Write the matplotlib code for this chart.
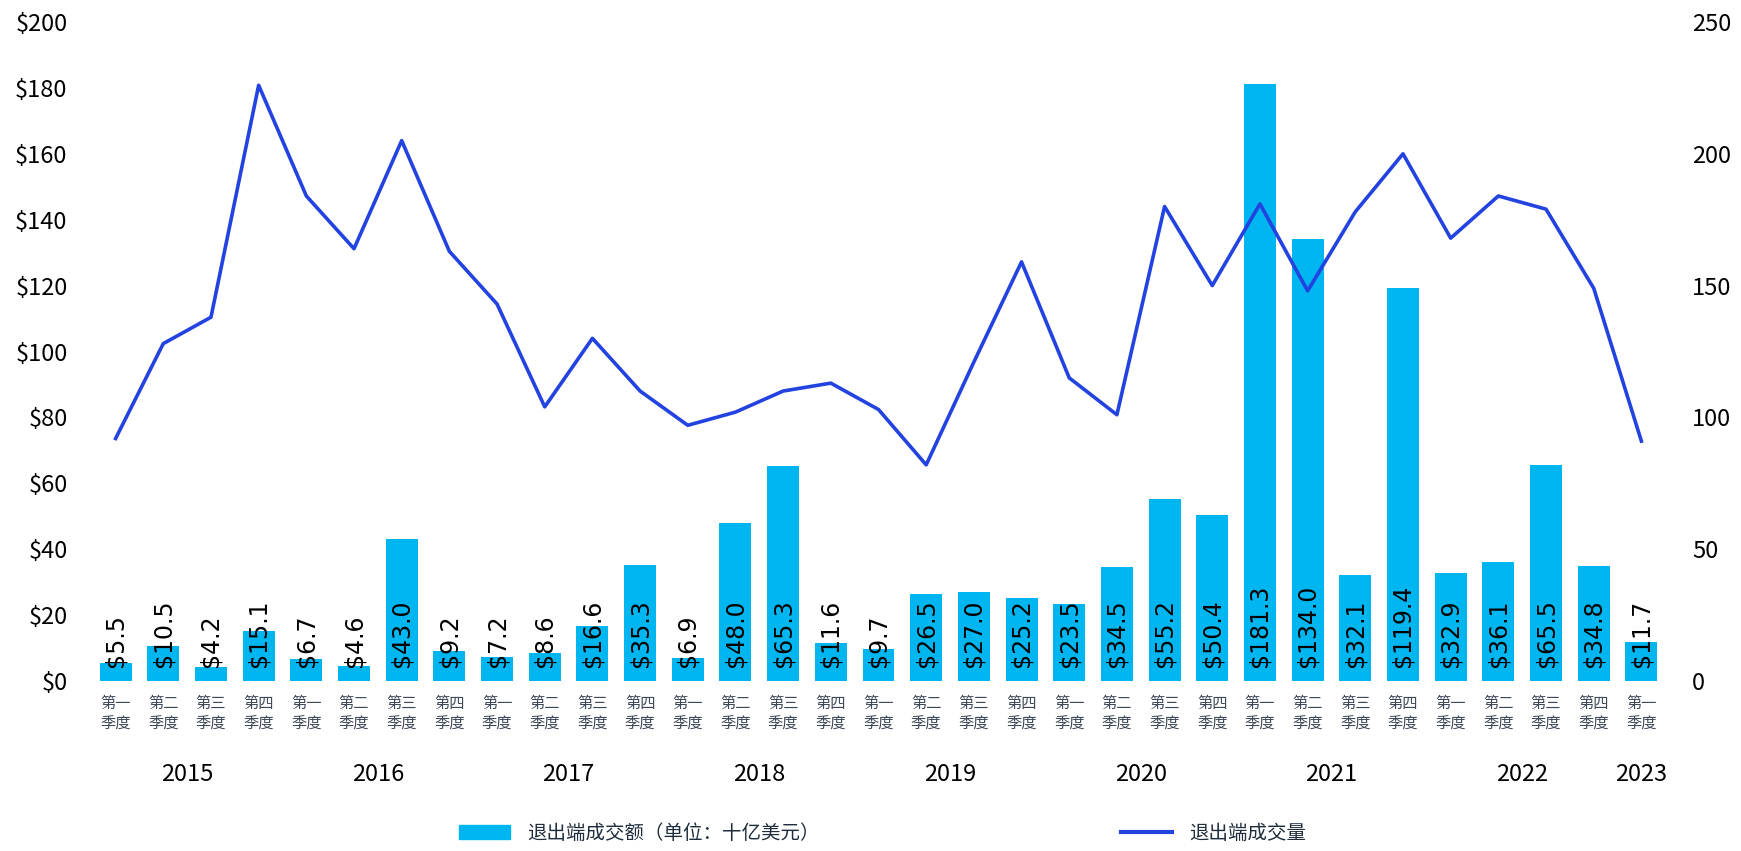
import matplotlib
matplotlib.use('Agg')
import matplotlib.pyplot as plt
from matplotlib.patches import Patch
from matplotlib.lines import Line2D
from matplotlib.transforms import blended_transform_factory

plt.rcParams['font.family'] = ['Noto Sans CJK SC', 'DejaVu Sans']

years = ['2015', '2016', '2017', '2018', '2019', '2020', '2021', '2022', '2023']
quarters = ['第一\n季度', '第二\n季度', '第三\n季度', '第四\n季度']
deal_value = [5.5, 10.5, 4.2, 15.1, 6.7, 4.6, 43.0, 9.2, 7.2, 8.6, 16.6, 35.3,
              6.9, 48.0, 65.3, 11.6, 9.7, 26.5, 27.0, 25.2, 23.5, 34.5, 55.2, 50.4,
              181.3, 134.0, 32.1, 119.4, 32.9, 36.1, 65.5, 34.8, 11.7]
deal_count = [92, 128, 138, 226, 184, 164, 205, 163, 143, 104, 130, 110,
              97, 102, 110, 113, 103, 82, 121, 159, 115, 101, 180, 150,
              181, 148, 178, 200, 168, 184, 179, 149, 91]

bar_color = '#00B6F1'
line_color = '#2343E0'

n = len(deal_value)
x = list(range(n))
qlabels = [quarters[i % 4] for i in x]

fig = plt.figure(figsize=(17.41, 8.51), dpi=100)
ax = fig.add_axes([87 / 1741, 170 / 851, (1670 - 87) / 1741, 659 / 851])
ax2 = ax.twinx()

ax.bar(x, deal_value, width=0.67, color=bar_color)
for xi, v in zip(x, deal_value):
    ax.annotate(f'${v:.1f}', (xi, 0), xytext=(0, 10), textcoords='offset points',
                rotation=90, ha='center', va='bottom', fontsize=17,
                family='DejaVu Sans', color='black')

ax2.plot(x, deal_count, color=line_color, linewidth=2.6)

ax.set_xlim(-0.6, n - 0.4)
ax.set_ylim(0, 200)
ax2.set_ylim(0, 250)
ax.set_yticks(range(0, 201, 20))
ax.set_yticklabels([f'${v}' for v in range(0, 201, 20)])
ax2.set_yticks(range(0, 251, 50))

ax.set_xticks(x)
ax.set_xticklabels(qlabels, fontsize=11, color='#3d4858', linespacing=1.3)

for a in (ax, ax2):
    for s in a.spines.values():
        s.set_visible(False)
ax.tick_params(axis='y', length=0, labelsize=17, pad=14)
ax2.tick_params(axis='y', length=0, labelsize=17, pad=16)
ax.tick_params(axis='x', length=0, pad=10)

trans = blended_transform_factory(ax.transData, ax.transAxes)
for i, yr in enumerate(years):
    idx = [j for j in x if j // 4 == i]
    cx = (idx[0] + idx[-1]) / 2
    ax.text(cx, -0.1426, yr, transform=trans, ha='center', va='center', fontsize=17)

handles = [Patch(color=bar_color), Line2D([0], [0], color=line_color, linewidth=3)]
fig.legend(handles, ['退出端成交额（单位：十亿美元）', '退出端成交量'],
           loc='center', bbox_to_anchor=(0.507, 0.021), ncol=2, frameon=False,
           fontsize=14, handlelength=2.6, handletextpad=0.9, columnspacing=15.5,
           labelcolor='#1f2d3d')

fig.savefig('out.png', dpi=100)
